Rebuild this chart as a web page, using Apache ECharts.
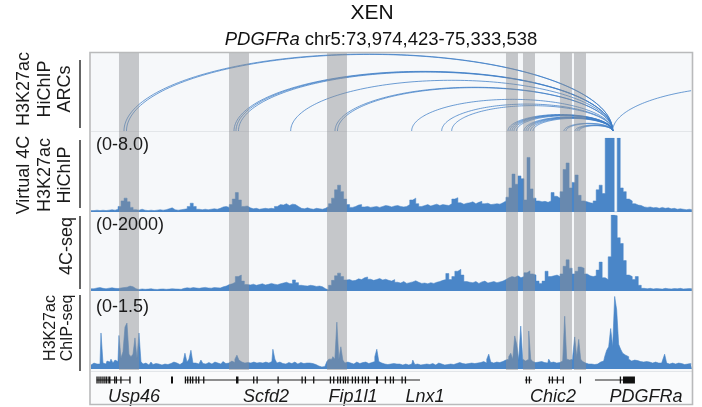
<!DOCTYPE html>
<html>
<head>
<meta charset="utf-8">
<script src="https://cdn.jsdelivr.net/npm/echarts@6/dist/echarts.min.js"></script>
<style>
  html, body { margin: 0; padding: 0; background: #ffffff; }
  #chart { width: 702px; height: 407px; }
</style>
</head>
<body>
<div id="chart"></div>
<script>
// Locus shown: chr5:73,974,423-75,333,538 (XEN cells, PDGFRa viewpoint)
const REGION_START = 73974423;
const REGION_END = 75333538;
const VIEWPOINT = 75154200;

// Highlighted enhancer regions (bp)
const highlightBands = [
  [74037700, 74083000], [74286500, 74331700], [74508100, 74553300],
  [74912900, 74940000], [74951300, 74978500], [75035000, 75062100],
  [75066700, 75093800]
];

// HiChIP loop anchors that pair with the PDGFRa viewpoint (bp)
const arcAnchors = [
  74049000, 74054700, 74297800, 74302300, 74307900, 74426000,
  74526200, 74531800, 74699600, 74767500, 74790100,
  74917400, 74922000, 74926500, 74931000, 74936600,
  74953600, 74958100, 74962600, 74968300, 74974000,
  75044000, 75048600, 75068900, 75073500, 75078000,
  75803800
];

// Virtual 4C from H3K27ac HiChIP, 6.8 kb bins, display range 0-8.0
const HICHIP_BIN = 6800;
const hichipValues = [
  0.15, 0.2, 0.15, 0.2, 0.15, 0.2, 0.25, 0.2, 0.3, 0.6,
  1.2, 1.5, 1.1, 0.5, 0.25, 0.2, 0.3, 0.2, 0.15, 0.2,
  0.15, 0.2, 0.25, 0.2, 0.25, 0.35, 0.45, 0.25, 0.2, 0.25,
  0.3, 0.35, 0.6, 0.95, 0.6, 0.3, 0.25, 0.3, 0.25, 0.3,
  0.35, 0.3, 0.4, 0.55, 0.6, 0.5, 0.8, 1.4, 2.1, 1.3,
  0.6, 0.65, 0.45, 0.35, 0.4, 0.3, 0.35, 0.4, 0.35, 0.4,
  0.35, 0.6, 0.8, 0.75, 0.9, 0.7, 0.85, 0.8, 0.6, 0.4,
  0.35, 0.45, 0.35, 0.3, 0.4, 0.35, 0.3, 0.4, 0.6, 0.9,
  1.5, 2.4, 2.9, 2.2, 1.4, 0.8, 0.5, 0.6, 0.75, 0.8,
  0.55, 0.6, 0.5, 0.55, 0.6, 0.5, 0.6, 0.7, 0.65, 0.55,
  0.65, 0.7, 0.6, 0.55, 0.6, 0.8, 1.3, 1.5, 0.9, 0.6,
  0.7, 0.8, 0.65, 0.75, 0.85, 0.7, 0.8, 0.75, 0.7, 0.9,
  1.4, 1.55, 1.0, 0.85, 0.95, 1.0, 1.1, 0.9, 1.05, 1.15,
  0.9, 0.95, 0.8, 0.85, 0.9, 0.85, 1.0, 1.2, 1.6, 2.6,
  4.1, 3.0, 3.9, 3.6, 1.3, 5.9, 2.5, 1.5, 1.2, 1.1,
  1.15, 1.05, 1.2, 2.1, 1.7, 1.5, 2.2, 4.6, 5.3, 2.6,
  3.2, 4.0, 1.8, 1.2, 1.1, 1.0, 0.95, 1.2, 2.4, 2.9,
  2.0, 9.5, 12, 11, 0, 10, 2.6, 2.2, 1.4, 1.2,
  0.9, 0.75, 0.7, 0.55, 0.5, 0.55, 0.45, 0.5, 0.4, 0.5,
  0.4, 0.45, 0.35, 0.4, 0.3, 0.35, 0.3, 0.25, 0.3, 0.25
];
const HICHIP_MAX = 8.0;

// 4C-seq reads, 6.8 kb bins, display range 0-2000
const FOURC_BIN = 6800;
const fourCValues = [
  60, 80, 90, 70, 60, 75, 85, 70, 65, 80, 90, 100, 130, 110, 60,
  40, 55, 45, 50, 60, 45, 40, 50, 55, 45, 50, 60, 55, 50, 45,
  70, 85, 75, 90, 80, 70, 85, 95, 80, 75, 90, 85, 80,
  110, 130, 170, 190, 230, 380, 420, 260, 170,
  160, 180, 150, 170, 190, 160, 175, 200, 180, 165, 190, 210, 230, 200, 190,
  290, 220,
  150, 140, 130, 150, 140, 120, 130, 110, 60,
  30,
  150, 280, 400, 470, 380, 290, 300, 270,
  280, 320, 300, 350, 370, 310, 280, 300, 330, 290, 310, 280, 260, 300,
  230, 210, 250, 200, 220, 240, 270, 230, 200, 210, 190, 220, 200, 230, 250, 280, 300,
  460, 300, 380, 520, 570, 420, 250,
  230, 220, 250, 200, 240, 260, 210, 230, 250, 220, 240, 260, 300,
  350, 380, 360, 400, 350, 380, 480, 530, 450, 420, 260,
  200, 260, 520, 380, 400, 420, 380, 450, 650, 820,
  600, 450, 520, 630, 600, 450, 400, 380, 400,
  550, 760, 350,
  300, 900, 2000, 1980, 1400, 1250, 800, 420, 380, 300, 380, 150, 70,
  60, 70, 55, 65, 60, 50, 70, 60, 55, 65, 60, 70, 55, 60, 65, 60
];
const FOURC_MAX = 2000;

// H3K27ac ChIP-seq signal, 4.52 kb bins, display range 0-1.5
const CHIP_BIN = 4520;
const chipValues = [
  0.08, 0.12, 0.1, 0.14, 0.1, 0.73, 0.12, 0.1, 0.16, 0.14,
  0.2, 0.12, 0.18, 0.15, 0.68, 0.22, 0.35, 0.85, 0.93, 0.3,
  0.25, 0.3, 0.63, 0.22, 0.73, 0.15, 0.1, 0.12, 0.08, 0.1,
  0.14, 0.09, 0.11, 0.1, 0.13, 0.08, 0.1, 0.12, 0.09, 0.11,
  0.1, 0.14, 0.12, 0.1, 0.09, 0.13, 0.15, 0.32, 0.14, 0.2,
  0.38, 0.12, 0.12, 0.1, 0.14, 0.18, 0.11, 0.1, 0.13, 0.12,
  0.1, 0.14, 0.11, 0.12, 0.1, 0.13, 0.15, 0.11, 0.12, 0.14,
  0.16, 0.13, 0.2, 0.28, 0.18, 0.14, 0.12, 0.1, 0.13, 0.12,
  0.11, 0.14, 0.12, 0.1, 0.13, 0.12, 0.11, 0.14, 0.12, 0.13,
  0.15, 0.4, 0.2, 0.12, 0.14, 0.11, 0.12, 0.1, 0.13, 0.12,
  0.11, 0.14, 0.12, 0.1, 0.13, 0.12, 0.11, 0.12, 0.1, 0.12,
  0.11, 0.1, 0.09, 0.06, 0.05, 0.04, 0.05, 0.06, 0.15, 0.2,
  0.2, 0.25, 0.2, 0.95, 0.2, 0.45, 0.18, 0.12, 0.14, 0.12,
  0.13, 0.1, 0.14, 0.12, 0.11, 0.13, 0.12, 0.14, 0.11, 0.12,
  0.13, 0.15, 0.25, 0.4, 0.15, 0.12, 0.1, 0.11, 0.09, 0.1,
  0.08, 0.11, 0.1, 0.09, 0.1, 0.08, 0.09, 0.1, 0.08, 0.11,
  0.1, 0.18, 0.09, 0.1, 0.08, 0.11, 0.09, 0.1, 0.08, 0.09,
  0.11, 0.1, 0.08, 0.12, 0.09, 0.1, 0.08, 0.11, 0.09, 0.1,
  0.12, 0.09, 0.11, 0.1, 0.13, 0.11, 0.12, 0.1, 0.11, 0.13,
  0.12, 0.11, 0.14, 0.12, 0.13, 0.11, 0.15, 0.12, 0.2, 0.3,
  0.14, 0.12, 0.14, 0.16, 0.13, 0.15, 0.14, 0.18, 0.2, 0.25,
  0.32, 0.2, 0.67, 0.5, 0.18, 0.87, 0.2, 0.16, 0.2, 0.77,
  0.2, 0.15, 0.13, 0.14, 0.12, 0.15, 0.13, 0.14, 0.12, 0.2,
  0.13, 0.14, 0.12, 0.15, 0.13, 0.16, 0.2, 1.07, 0.2, 0.18,
  0.2, 0.25, 0.65, 0.25, 0.6, 0.2, 0.15, 0.12, 0.1, 0.08,
  0.1, 0.09, 0.12, 0.1, 0.14, 0.12, 0.16, 0.25, 0.38, 0.45,
  0.82, 0.45, 1.47, 1.2, 0.5, 0.4, 0.32, 0.28, 0.25, 0.2,
  0.16, 0.18, 0.14, 0.17, 0.15, 0.16, 0.14, 0.15, 0.13, 0.14,
  0.12, 0.13, 0.14, 0.12, 0.13, 0.12, 0.18, 0.3, 0.12, 0.1,
  0.12, 0.11, 0.1, 0.12, 0.1, 0.11, 0.09, 0.12, 0.1, 0.11, 0.1
];
const CHIP_MAX = 1.5;

// RefSeq gene models: transcribed spans (introns drawn as lines) and exons
const geneSpans = [
  [73987300, 74062600], [74187000, 74718400], [74955800, 74971700],
  [75007900, 75041800], [75114100, 75177400]
];
const geneExons = [
  [73986600, 73989000], [73991000, 73992500], [73995400, 73997000],
  [74000000, 74001500], [74004400, 74006000], [74008500, 74010000],
  [74013500, 74018500], [74026600, 74028200], [74030400, 74032000],
  [74040600, 74042200], [74061000, 74062600], [74084600, 74086200],
  [74155300, 74159800],
  [74186500, 74188200], [74191700, 74193300], [74197800, 74199400],
  [74203000, 74204600], [74210700, 74212300], [74216600, 74218200],
  [74227900, 74229500], [74302300, 74307900], [74340900, 74342500],
  [74348600, 74350200], [74396100, 74397700],
  [74450400, 74452000], [74457800, 74459400], [74476600, 74478200],
  [74514400, 74516000], [74521800, 74523400], [74530900, 74532500],
  [74537000, 74538600], [74543800, 74545400], [74548300, 74549900],
  [74554000, 74555600], [74564100, 74565700], [74570900, 74572500],
  [74577700, 74579300], [74586800, 74588400], [74593500, 74595100],
  [74600300, 74601900], [74618900, 74623400], [74638800, 74640400],
  [74650100, 74651700],
  [74656800, 74658400], [74676500, 74678100], [74684000, 74685600],
  [74957600, 74959200], [74964400, 74966000],
  [75009600, 75011200], [75016400, 75018000], [75027700, 75029300],
  [75041000, 75042600], [75079700, 75081300],
  [75170200, 75171800], [75177400, 75204500]
];
const geneNames = ['Usp46', 'Scfd2', 'Fip1l1', 'Lnx1', 'Chic2', 'PDGFRa'];
const geneLabelPos = [74071600, 74370100, 74566900, 74729700, 75019200, 75229500];

// ---------------------------------------------------------------------------
const BLUE = '#4a86c8';
const FONT = '"Liberation Sans", Arial, Helvetica, sans-serif';
const PLOT_LEFT = 91, PLOT_W = 601;

// track panels: top / height in px
const PANELS = {
  arcs:  { top: 53,  height: 78 },
  hichip:{ top: 138, height: 74 },
  fourC: { top: 215, height: 76 },
  chip:  { top: 295, height: 74 },
  genes: { top: 372, height: 16 },
  bands: { top: 53,  height: 317 }
};
const order = ['arcs', 'hichip', 'fourC', 'chip', 'genes', 'bands'];

const grids = order.map(k => ({
  left: PLOT_LEFT, width: PLOT_W, top: PANELS[k].top, height: PANELS[k].height,
  outerBoundsMode: 'none', containLabel: false, show: false
}));
const xAxes = order.map((k, i) => ({
  type: 'value', gridIndex: i, min: REGION_START, max: REGION_END, show: false
}));
const yMax = { arcs: 1120, hichip: HICHIP_MAX, fourC: FOURC_MAX, chip: CHIP_MAX, genes: 1, bands: 1 };
const yAxes = order.map((k, i) => ({
  type: 'value', gridIndex: i, min: 0, max: yMax[k], show: false
}));

function binned(values, bin, cap) {
  const pts = values.map((v, i) => [REGION_START + (i + 0.5) * bin, Math.min(v, cap)]);
  pts.unshift([REGION_START, Math.min(values[0], cap)]);
  pts.push([REGION_END, Math.min(values[values.length - 1], cap)]);
  return pts;
}

function trackSeries(idx, data, opts) {
  return Object.assign({
    type: 'line', xAxisIndex: idx, yAxisIndex: idx, data,
    showSymbol: false, symbol: 'none', silent: true, animation: false,
    sampling: null, clip: true, step: 'middle',
    lineStyle: { color: BLUE, width: 0.5 },
    areaStyle: { color: BLUE, opacity: 1, origin: 'start' },
    z: 3
  }, opts || {});
}

const series = [];

// loops drawn as half-ellipses, height proportional to span
series.push({
  type: 'custom', xAxisIndex: 0, yAxisIndex: 0, silent: true, animation: false,
  encode: { x: [0, 1] },
  data: arcAnchors.map(a => [a, VIEWPOINT]),
  z: 4,
  renderItem(params, api) {
    const a = api.value(0), b = api.value(1);
    const lo = Math.min(a, b), hi = Math.max(a, b);
    const mid = (lo + hi) / 2, half = (hi - lo) / 2, h = (hi - lo) / 1000;
    const pts = [];
    const n = 120;
    for (let k = 0; k <= n; k++) {
      const t = Math.PI * k / n;
      const x = mid - half * Math.cos(t);
      if (x > REGION_END) break;
      pts.push(api.coord([x, h * Math.sin(t)]));
    }
    return {
      type: 'polyline', shape: { points: pts },
      style: { stroke: '#3d7dc6', lineWidth: 0.8, fill: null, opacity: 0.95 }
    };
  }
});

series.push(trackSeries(1, binned(hichipValues, HICHIP_BIN, HICHIP_MAX)));
series.push(trackSeries(2, binned(fourCValues, FOURC_BIN, FOURC_MAX)));
series.push(trackSeries(3, binned(chipValues, CHIP_BIN, CHIP_MAX), { lineStyle: { color: BLUE, width: 0.6 } }));

// gene models
series.push({
  type: 'custom', xAxisIndex: 4, yAxisIndex: 4, silent: true, animation: false,
  encode: { x: [0, 1] },
  data: geneSpans.map(s => [s[0], s[1], 0]).concat(geneExons.map(e => [e[0], e[1], 1])),
  z: 5,
  renderItem(params, api) {
    const s = api.coord([api.value(0), 0.5]);
    const e = api.coord([api.value(1), 0.5]);
    if (api.value(2) === 0) {
      return { type: 'line', shape: { x1: s[0], y1: s[1], x2: e[0], y2: s[1] },
               style: { stroke: '#222', lineWidth: 1 } };
    }
    const h = 7;
    return { type: 'rect',
             shape: { x: s[0], y: s[1] - h / 2, width: Math.max(e[0] - s[0], 1.3), height: h },
             style: { fill: '#111' } };
  }
});
series.push({
  type: 'custom', xAxisIndex: 4, yAxisIndex: 4, silent: true, animation: false,
  data: geneLabelPos.map(p => [p, 0.5]),
  z: 5,
  renderItem(params, api) {
    const c = api.coord([api.value(0), 0.5]);
    return { type: 'text', x: c[0], y: c[1] + 17,
             style: { text: geneNames[params.dataIndex], fontFamily: FONT, fontSize: 18,
                      fontStyle: 'italic', fill: '#1a1a1a', align: 'center', verticalAlign: 'middle' } };
  }
});

// translucent grey highlight bands across all signal tracks
series.push({
  type: 'custom', xAxisIndex: 5, yAxisIndex: 5, silent: true, animation: false,
  encode: { x: [0, 1] },
  data: highlightBands,
  z: 10,
  renderItem(params, api) {
    const tl = api.coord([api.value(0), 1]);
    const br = api.coord([api.value(1), 0]);
    return { type: 'rect', shape: { x: tl[0], y: tl[1], width: br[0] - tl[0], height: br[1] - tl[1] },
             style: { fill: 'rgba(140,142,146,0.46)' } };
  }
});

function vtext(x, y, text, size, lh) {
  return { type: 'text', x, y, rotation: Math.PI / 2, z: 50,
           style: { text, fontFamily: FONT, fontSize: size, lineHeight: lh, fill: '#1a1a1a',
                    align: 'center', verticalAlign: 'middle', textAlign: 'center', textVerticalAlign: 'middle' } };
}
function vline(x, y1, y2) {
  return { type: 'line', z: 50, shape: { x1: x, y1, x2: x, y2 }, style: { stroke: '#111', lineWidth: 1.3 } };
}
function rangeLabel(y, text) {
  return { type: 'text', x: 96, y, z: 50,
           style: { text, fontFamily: FONT, fontSize: 18, fill: '#1a1a1a', align: 'left', verticalAlign: 'middle',
                    textAlign: 'left', textVerticalAlign: 'middle' } };
}

const graphic = [
  // panel backgrounds
  { type: 'rect', z: 0, shape: { x: 91, y: 53, width: 601, height: 318 }, style: { fill: '#f6f8fa' } },
  { type: 'rect', z: 0, shape: { x: 91, y: 371, width: 601, height: 34 }, style: { fill: '#fafbfc' } },
  { type: 'line', z: 1, shape: { x1: 91, y1: 131.5, x2: 692, y2: 131.5 }, style: { stroke: '#e3e6e9', lineWidth: 1 } },
  { type: 'line', z: 1, shape: { x1: 91, y1: 371.5, x2: 692, y2: 371.5 }, style: { stroke: '#e3e6e9', lineWidth: 1 } },
  // outer frame
  { type: 'rect', z: 60, shape: { x: 90, y: 52.5, width: 602.5, height: 352 },
    style: { fill: null, stroke: '#b9babb', lineWidth: 1.6 } },
  // titles
  { type: 'text', x: 372, y: 13, z: 50,
    style: { text: 'XEN', fontFamily: FONT, fontSize: 21, fill: '#111', align: 'center', verticalAlign: 'middle',
             textAlign: 'center', textVerticalAlign: 'middle' } },
  { type: 'text', x: 381, y: 40, z: 50,
    style: { text: '{i|PDGFRa} chr5:73,974,423-75,333,538', fontFamily: FONT, fontSize: 18.5, fill: '#111',
             align: 'center', verticalAlign: 'middle', textAlign: 'center', textVerticalAlign: 'middle',
             rich: { i: { fontStyle: 'italic', fontFamily: FONT, fontSize: 18.5, fill: '#111' } } } },
  // track names
  vtext(45, 89, 'H3K27ac\nHiChIP\nARCs', 18, 20.5),
  vtext(45, 175, 'Virtual 4C\nH3K27ac\nHiChIP', 18, 20.5),
  vtext(67, 246, '4C-seq', 18, 20.5),
  vtext(59, 328, 'H3K27ac\nChIP-seq', 16, 17.5),
  vline(80, 60, 128),
  vline(80, 140, 208),
  vline(80, 216, 289),
  vline(80, 295, 371),
  // data ranges
  rangeLabel(145.5, '(0-8.0)'),
  rangeLabel(225, '(0-2000)'),
  rangeLabel(307.5, '(0-1.5)')
];

const chart = echarts.init(document.getElementById('chart'), null, { renderer: 'canvas' });
chart.setOption({
  animation: false,
  backgroundColor: '#ffffff',
  grid: grids,
  xAxis: xAxes,
  yAxis: yAxes,
  series,
  graphic
});
</script>
</body>
</html>
